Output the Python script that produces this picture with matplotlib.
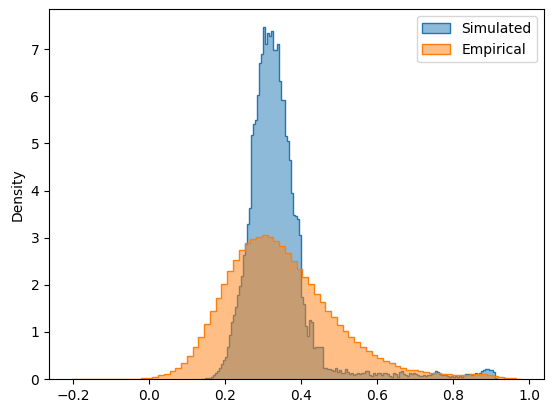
import numpy as np
import matplotlib.pyplot as plt

# Histogram densities
simulated_start, simulated_end = 0.1369, 0.9154
simulated = [
    0.01, 0.01, 0.02, 0.02, 0.03, 0.05, 0.08, 0.12, 0.16, 0.23,
    0.32, 0.40, 0.47, 0.67, 0.93, 1.22, 1.36, 1.53, 1.78, 1.98,
    2.19, 2.63, 2.87, 3.30, 3.62, 5.18, 5.42, 5.50, 6.02, 6.70,
    6.89, 7.47, 7.12, 7.35, 7.28, 7.38, 6.98, 6.98, 7.11, 6.32,
    5.92, 5.92, 5.15, 5.06, 4.65, 3.95, 3.48, 3.45, 3.39, 3.05,
    1.75, 1.60, 1.12, 0.92, 1.25, 1.22, 0.66, 0.69, 0.67, 0.67,
    0.67, 0.23, 0.23, 0.21, 0.21, 0.19, 0.16, 0.23, 0.155, 0.19,
    0.12, 0.13, 0.21, 0.15, 0.11, 0.12, 0.08, 0.11, 0.12, 0.10,
    0.13, 0.13, 0.17, 0.17, 0.08, 0.06, 0.13, 0.08, 0.12, 0.13,
    0.08, 0.12, 0.13, 0.11, 0.06, 0.05, 0.12, 0.11, 0.05, 0.15,
    0.17, 0.10, 0.08, 0.07, 0.12, 0.10, 0.12, 0.11, 0.09, 0.07,
    0.06, 0.08, 0.07, 0.08, 0.09, 0.10, 0.13, 0.17, 0.15, 0.10,
    0.09, 0.09, 0.08, 0.06, 0.05, 0.06, 0.05, 0.06, 0.05, 0.06,
    0.05, 0.08, 0.11, 0.10, 0.11, 0.09, 0.11, 0.13, 0.11, 0.12,
    0.16, 0.19, 0.21, 0.21, 0.19, 0.19, 0.15, 0.02,
]

empirical_start, empirical_end = -0.205, 0.98
empirical = [
    0.004, 0.003, 0.004, 0.003, 0.004, 0.005, 0.004, 0.005, 0.006, 0.005,
    0.007, 0.008, 0.03, 0.03, 0.05, 0.09, 0.11, 0.16, 0.24, 0.35,
    0.49, 0.68, 0.89, 1.16, 1.44, 1.71, 2.02, 2.29, 2.53, 2.73,
    2.88, 2.98, 3.02, 3.05, 3.01, 2.93, 2.83, 2.67, 2.50, 2.33,
    2.17, 2.01, 1.80, 1.63, 1.45, 1.31, 1.15, 1.02, 0.90, 0.78,
    0.69, 0.59, 0.50, 0.44, 0.38, 0.33, 0.28, 0.23, 0.19, 0.19,
    0.16, 0.14, 0.12, 0.12, 0.10, 0.10, 0.085, 0.085, 0.09, 0.10,
    0.105, 0.105, 0.09, 0.065, 0.04, 0.03, 0.015, 0.01,
]

sim_edges = np.linspace(simulated_start, simulated_end, len(simulated) + 1)
emp_edges = np.linspace(empirical_start, empirical_end, len(empirical) + 1)

fig, ax = plt.subplots(figsize=(5.54, 4.13), dpi=100)
fig.subplots_adjust(left=0.0884, right=0.982, bottom=0.0823, top=0.977)

blue = "#1f77b4"
orange = "#ff7f0e"
ax.stairs(simulated, sim_edges, fill=True, facecolor=(*plt.matplotlib.colors.to_rgb(blue), 0.5),
          edgecolor=blue, linewidth=1, label="Simulated")
ax.stairs(empirical, emp_edges, fill=True, facecolor=(*plt.matplotlib.colors.to_rgb(orange), 0.5),
          edgecolor=orange, linewidth=1, label="Empirical")

ax.set_ylabel("Density")
ax.set_xticks([-0.2, 0.0, 0.2, 0.4, 0.6, 0.8, 1.0])
ax.margins(x=0.05, y=0.05)
ax.set_ylim(0, None)
ax.legend(loc="upper right")

plt.savefig("out.png")
